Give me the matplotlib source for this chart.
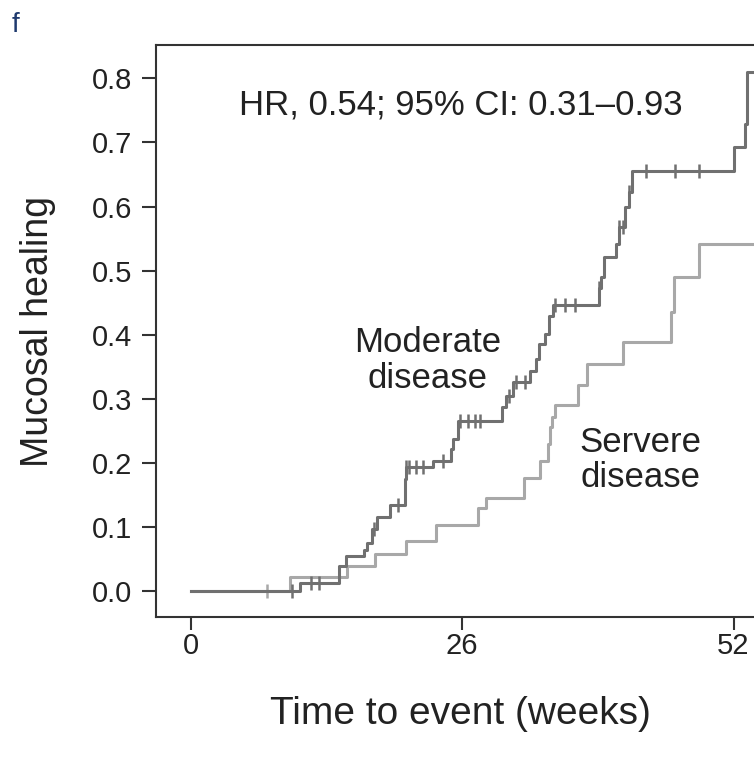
import numpy as np
import matplotlib
matplotlib.use("Agg")
import matplotlib.pyplot as plt

plt.rcParams['font.family'] = ['Liberation Sans', 'DejaVu Sans']

# Moderate disease: event times (weeks) and cumulative mucosal healing
mod_t = [0, 10.5, 14.2, 14.85, 16.6, 16.9, 17.4, 17.9, 19.1, 20.5, 20.6,
         23.2, 24.9, 25.1, 25.6, 29.8, 30.2, 30.9, 32.5, 33.1, 33.4, 33.9,
         34.3, 34.7, 39.1, 39.3, 39.6, 40.7, 41.0, 41.6, 42.0, 42.3,
         52.0, 53.1, 53.3, 60]
mod_v = [0, 0.013, 0.040, 0.055, 0.064, 0.076, 0.097, 0.116, 0.135, 0.175, 0.194,
         0.204, 0.222, 0.238, 0.266, 0.287, 0.305, 0.326, 0.344, 0.363, 0.386, 0.402,
         0.430, 0.446, 0.473, 0.490, 0.521, 0.542, 0.568, 0.599, 0.623, 0.656,
         0.693, 0.729, 0.810, 0.810]
mod_cens = [9.7, 11.5, 12.3, 17.6, 19.9, 20.6, 20.9, 21.6, 22.3, 24.2, 25.8,
            26.6, 27.2, 27.7, 30.5, 31.2, 32.0, 34.9, 35.9, 36.8, 39.1, 41.0,
            41.4, 42.0, 43.6, 46.4, 48.7]

# Severe disease
sev_t = [0, 9.5, 15.0, 17.7, 20.6, 23.5, 27.5, 28.3, 31.9, 33.5, 34.2, 34.4,
         34.6, 34.9, 37.1, 38.0, 41.4, 46.0, 46.3, 48.7, 60]
sev_v = [0, 0.022, 0.040, 0.058, 0.079, 0.103, 0.130, 0.146, 0.177, 0.203, 0.230,
         0.256, 0.272, 0.291, 0.322, 0.355, 0.389, 0.435, 0.490, 0.541, 0.541]
sev_cens = [7.3]

x_ticks = [0, 26, 52]
y_ticks = [0.0, 0.1, 0.2, 0.3, 0.4, 0.5, 0.6, 0.7, 0.8]

DARK = '#707070'
LIGHT = '#a8a8a8'
TXT = '#222222'


def step_value(t, v, x):
    idx = np.searchsorted(t, x, side='right') - 1
    return np.asarray(v)[idx]


fig = plt.figure(figsize=(7.54, 7.58), dpi=100)
# axes run a little past the right edge of the figure, as in the source panel
ax = fig.add_axes([0.207, 0.186, 0.806, 0.7546])

ax.step(sev_t, sev_v, where='post', color=LIGHT, lw=2.2)
ax.plot(sev_cens, step_value(sev_t, sev_v, sev_cens), ls='none', marker='|',
        ms=10, mew=1.8, color=LIGHT)
ax.step(mod_t, mod_v, where='post', color=DARK, lw=2.2)
ax.plot(mod_cens, step_value(mod_t, mod_v, mod_cens), ls='none', marker='|',
        ms=10, mew=1.8, color=DARK)

ax.set_xlim(-3.3, 54.9)
ax.set_ylim(-0.04, 0.852)
ax.set_xticks(x_ticks)
ax.set_yticks(y_ticks)
ax.set_yticklabels([f'{y:.1f}' for y in y_ticks])
ax.tick_params(axis='both', direction='out', width=1.5,
               labelsize=21, colors='#333333', labelcolor=TXT)
ax.tick_params(axis='x', length=9, pad=2)
ax.tick_params(axis='y', length=10, pad=7)
for s in ax.spines.values():
    s.set_linewidth(1.5)
    s.set_color('#333333')

ax.set_ylabel('Mucosal healing', fontsize=27, color=TXT, labelpad=26)
ax.set_xlabel('Time to event (weeks)', fontsize=28, color=TXT, labelpad=26)

ax.text(25.9, 0.758, 'HR, 0.54; 95% CI: 0.31\u20130.93', fontsize=25,
        color=TXT, ha='center', va='center')
ax.text(22.7, 0.36, 'Moderate\ndisease', fontsize=25, color=TXT,
        ha='center', va='center', linespacing=1.1)
ax.text(43.1, 0.205, 'Servere\ndisease', fontsize=25, color=TXT,
        ha='center', va='center', linespacing=1.1)

fig.text(0.016, 0.967, 'f', fontsize=20, color='#1f3a6e', ha='left', va='center')

fig.savefig('out.png', dpi=100)
